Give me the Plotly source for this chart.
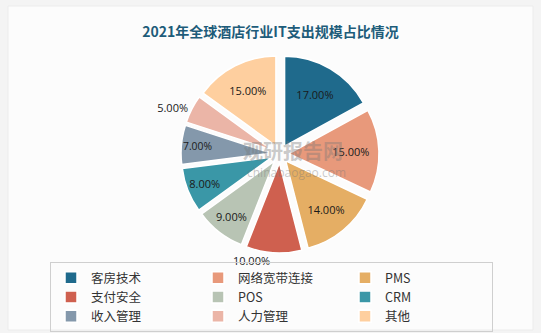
import plotly.graph_objects as go

categories = ["客房技术", "网络宽带连接", "PMS", "支付安全", "POS", "CRM", "收入管理", "人力管理", "其他"]
values = [17, 15, 14, 10, 9, 8, 7, 5, 15]
colors = ["#1F6A8C", "#E8997B", "#E5AE64", "#CF604F", "#B8C4B4", "#3A97A7", "#8498AB", "#EBB5A7", "#FECF9F"]
positions = ["inside", "inside", "inside", "outside", "inside", "inside", "inside", "outside", "inside"]

W, H = 541, 333

fig = go.Figure()
fig.add_trace(go.Pie(
    labels=categories,
    values=values,
    sort=False,
    direction="clockwise",
    rotation=0,
    pull=0.1,
    marker=dict(colors=colors, line=dict(color="white", width=1.5)),
    texttemplate="%{percent:.2%}",
    textposition=positions,
    insidetextorientation="horizontal",
    textfont=dict(family="Open Sans", size=11, color="#1a1a1a"),
    outsidetextfont=dict(family="Open Sans", size=11, color="#1a1a1a"),
    domain=dict(x=[181 / W, 379 / W], y=[1 - 253 / H, 1 - 55 / H]),
    hoverinfo="label+percent",
))

fig.update_layout(
    width=W, height=H,
    margin=dict(l=0, r=0, t=0, b=0, autoexpand=False),
    paper_bgcolor="#F4F4F4",
    plot_bgcolor="#FBFBFB",
    title=dict(
        text="<b>2021年全球酒店行业IT支出规模占比情况</b>",
        x=0.5, xanchor="center", y=1 - 32 / H, yanchor="middle",
        font=dict(family="Noto Sans CJK SC", size=14, color="#1E5C7A"),
    ),
    legend=dict(
        orientation="h",
        x=50 / W, xanchor="left",
        y=1 - 262 / H, yanchor="top",
        entrywidth=102, entrywidthmode="pixels",
        bordercolor="#CFCFCF", borderwidth=1,
        bgcolor="rgba(0,0,0,0)",
        font=dict(family="Noto Sans CJK SC", size=12.5, color="#333333"),
        itemwidth=30,
        traceorder="normal",
    ),
    shapes=[dict(type="rect", xref="paper", yref="paper",
                 x0=8 / W, x1=533 / W, y0=1 - 330 / H, y1=1 - 6 / H,
                 fillcolor="#FCFCFC", line=dict(color="#ECECEC", width=1), layer="below")],
    annotations=[
        dict(text="<b>观研报告网</b>", x=293 / W, y=1 - 150 / H, xref="paper", yref="paper",
             showarrow=False, font=dict(family="Noto Sans CJK SC", size=20, color="rgba(120,120,120,0.4)")),
        dict(text="chinabaogao.com", x=296 / W, y=1 - 172 / H, xref="paper", yref="paper",
             showarrow=False, font=dict(family="Open Sans", size=12, color="rgba(120,120,120,0.4)")),
    ],
)

fig.write_html("out.html")
